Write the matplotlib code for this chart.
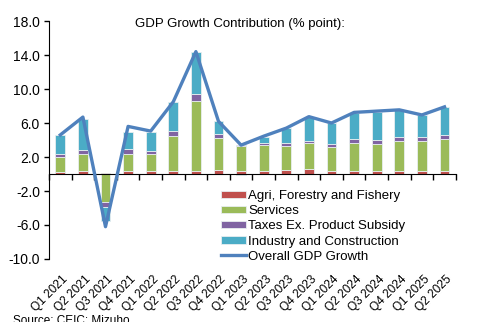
import matplotlib.pyplot as plt
from matplotlib.patches import Rectangle
from matplotlib.transforms import ScaledTranslation
import numpy as np

plt.rcParams['font.family'] = ['Liberation Sans', 'DejaVu Sans']

quarters = ['Q1 2021', 'Q2 2021', 'Q3 2021', 'Q4 2021',
            'Q1 2022', 'Q2 2022', 'Q3 2022', 'Q4 2022',
            'Q1 2023', 'Q2 2023', 'Q3 2023', 'Q4 2023',
            'Q1 2024', 'Q2 2024', 'Q3 2024', 'Q4 2024',
            'Q1 2025', 'Q2 2025']

# contributions in percentage points
agri = [0.25, 0.4, 0.1, 0.4, 0.3, 0.3, 0.4, 0.45, 0.3,
        0.35, 0.5, 0.6, 0.4, 0.4, 0.35, 0.35, 0.4, 0.35]
services = [1.75, 1.95, -3.25, 1.95, 2.05, 4.2, 8.2, 3.75, 3.05,
            3.05, 2.85, 3.0, 2.75, 3.3, 3.15, 3.55, 3.5, 3.75]
taxes = [0.35, 0.45, -0.6, 0.55, 0.35, 0.6, 0.8, 0.45, 0.05,
         0.2, 0.25, 0.3, 0.35, 0.45, 0.5, 0.5, 0.4, 0.5]
industry = [2.25, 3.7, -1.65, 2.0, 2.3, 3.4, 5.0, 1.55, -0.1,
            0.8, 1.8, 2.8, 2.5, 3.05, 3.35, 3.15, 2.65, 3.25]
gdp = [4.6, 6.7, -6.2, 5.6, 5.05, 8.5, 14.4, 6.2, 3.4,
       4.45, 5.4, 6.75, 6.0, 7.25, 7.4, 7.55, 6.95, 7.9]

series = [
    (agri, '#C0504D', 'Agri, Forestry and Fishery'),
    (services, '#9BBB59', 'Services'),
    (taxes, '#8064A2', 'Taxes Ex. Product Subsidy'),
    (industry, '#4BACC6', 'Industry and Construction'),
]

fig = plt.figure(figsize=(4.88, 3.34), dpi=100)
ax = fig.add_axes([0.1004, 0.2246, 0.8336, 0.7124])

x = np.arange(len(quarters))
pos_base = np.zeros(len(x))
neg_base = np.zeros(len(x))
handles = []
for vals, color, label in series:
    vals = np.array(vals)
    bottom = np.where(vals >= 0, pos_base, neg_base)
    bars = ax.bar(x, vals, 0.44, bottom=bottom, color=color,
                  edgecolor='#e8eef0', linewidth=0.6, label=label, zorder=2)
    handles.append(bars)
    pos_base += np.clip(vals, 0, None)
    neg_base += np.clip(vals, None, 0)

line, = ax.plot(x, gdp, color='#4F81BD', lw=2.4, label='Overall GDP Growth',
                zorder=3)
handles.append(line)

ax.set_xlim(-0.5, len(x) - 0.5)
ax.set_ylim(-10, 18)
yt = np.arange(-10, 19, 4)
ax.set_yticks(yt)
ax.set_yticklabels([f'{v:.1f}' for v in yt], fontsize=10)
ax.tick_params(axis='y', direction='out', length=3.5, width=1, pad=3)

# zero line carries the category boundary ticks
ax.spines['top'].set_visible(False)
ax.spines['right'].set_visible(False)
ax.spines['bottom'].set_position(('data', 0))
ax.set_xticks(np.arange(-0.5, len(x), 1))
ax.set_xticklabels([])
ax.tick_params(axis='x', direction='out', length=4, width=1)

# quarter labels sit below the plot area
sec = ax.secondary_xaxis('bottom')
sec.spines['bottom'].set_visible(False)
sec.set_xticks(x)
sec.set_xticklabels(quarters, rotation=45, ha='right', va='top',
                    rotation_mode='anchor', fontsize=8.6)
sec.tick_params(axis='x', length=0, pad=10)
shift = ScaledTranslation(1.5 / 100, 0, fig.dpi_scale_trans)
for lbl in sec.get_xticklabels():
    lbl.set_transform(lbl.get_transform() + shift)

fig.text(135 / 488, 1 - 24 / 334, 'GDP Growth Contribution (% point):',
         fontsize=9.5, va='center', ha='left')

fig.legend(handles, [h.get_label() for h in handles], loc='upper left',
           bbox_to_anchor=(220.5 / 488, 1 - 190 / 334), frameon=False,
           fontsize=9.5, handlelength=1.95, handleheight=0.5,
           handletextpad=0.15, labelspacing=0.24, borderpad=0,
           borderaxespad=0)

fig.text(13 / 488, 1 - 323.5 / 334, 'Source: CEIC; Mizuho', fontsize=8.5,
         va='baseline', ha='left')
# the bottom strip of the image is blank, trimming the source line
fig.add_artist(Rectangle((0, 0), 1, 12 / 334, transform=fig.transFigure,
                         facecolor='white', edgecolor='none', zorder=10))

fig.savefig('out.png', dpi=100)
